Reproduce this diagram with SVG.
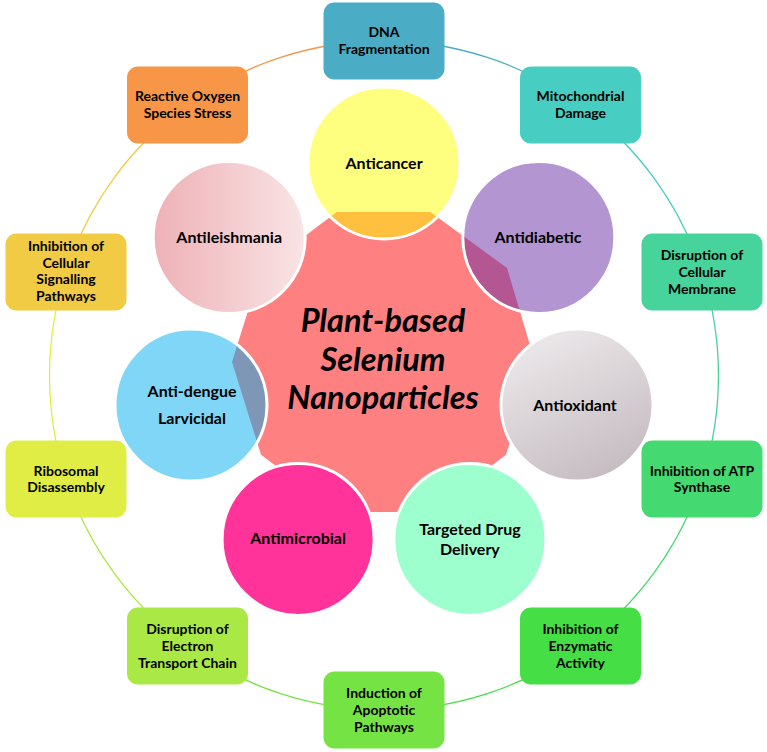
<svg xmlns="http://www.w3.org/2000/svg" width="767" height="752" viewBox="0 0 767 752">
  <defs>
    <linearGradient id="gLeish" x1="0" y1="0" x2="1" y2="0">
      <stop offset="0" stop-color="#EEB1B6"/>
      <stop offset="1" stop-color="#F9E4E5"/>
    </linearGradient>
    <linearGradient id="gOx" x1="0.25" y1="0" x2="0.75" y2="1">
      <stop offset="0" stop-color="#EDE9EB"/>
      <stop offset="1" stop-color="#C4BABF"/>
    </linearGradient>
  </defs>
  <style>
    .box { stroke: none; }
    .bt { font-family: Lato, "Liberation Sans", sans-serif; font-weight: bold; font-size: 14px; fill: #000; text-anchor: middle; }
    .ct { font-family: Lato, "Liberation Sans", sans-serif; font-weight: bold; font-size: 16px; fill: #000; text-anchor: middle; }
    .title { font-family: Lato, "Liberation Sans", sans-serif; font-weight: bold; font-style: italic; font-size: 32.5px; fill: #000; text-anchor: middle; }
    .circ { stroke: #FFFFFF; stroke-width: 3; }
    .ring { fill: none; stroke-width: 1.3; }
  </style>
  <rect width="767" height="752" fill="#FFFFFF"/>

  <!-- ring connectors -->
  <g id="connectors">
    <path class="ring" stroke="#4BACC6" d="M384,41 A334.5,334.5 0 0 1 580.6,104.9"/>
    <path class="ring" stroke="#47CDC1" d="M580.6,104.9 A334.5,334.5 0 0 1 702.1,272.1"/>
    <path class="ring" stroke="#46D39C" d="M702.1,272.1 A334.5,334.5 0 0 1 702.1,478.9"/>
    <path class="ring" stroke="#45D971" d="M702.1,478.9 A334.5,334.5 0 0 1 580.6,646.1"/>
    <path class="ring" stroke="#46DE45" d="M580.6,646.1 A334.5,334.5 0 0 1 384,710"/>
    <path class="ring" stroke="#76E345" d="M384,710 A334.5,334.5 0 0 1 187.4,646.1"/>
    <path class="ring" stroke="#AAE845" d="M187.4,646.1 A334.5,334.5 0 0 1 65.9,478.9"/>
    <path class="ring" stroke="#E0ED45" d="M65.9,478.9 A334.5,334.5 0 0 1 65.9,272.1"/>
    <path class="ring" stroke="#F2CB45" d="M65.9,272.1 A334.5,334.5 0 0 1 187.4,104.9"/>
    <path class="ring" stroke="#F79646" d="M187.4,104.9 A334.5,334.5 0 0 1 384,41"/>
  </g>

  <!-- outer boxes -->
  <g id="box-dna">
    <rect class="box" x="323.5" y="2.5" width="121" height="77" rx="11" fill="#4BACC6"/>
    <text class="bt" x="384" y="37">DNA</text>
    <text class="bt" x="384" y="53.5">Fragmentation</text>
  </g>
  <g id="box-mito">
    <rect class="box" x="520" y="66.5" width="121" height="77" rx="11" fill="#47CDC1"/>
    <text class="bt" x="580.5" y="101">Mitochondrial</text>
    <text class="bt" x="580.5" y="117.5">Damage</text>
  </g>
  <g id="box-membrane">
    <rect class="box" x="641.5" y="233.5" width="121" height="77" rx="11" fill="#46D39C"/>
    <text class="bt" x="702" y="259.5">Disruption of</text>
    <text class="bt" x="702" y="276.5">Cellular</text>
    <text class="bt" x="702" y="293.5">Membrane</text>
  </g>
  <g id="box-atp">
    <rect class="box" x="641.5" y="440.5" width="121" height="77" rx="11" fill="#45D971"/>
    <text class="bt" x="702" y="475.5">Inhibition of ATP</text>
    <text class="bt" x="702" y="492">Synthase</text>
  </g>
  <g id="box-enzymatic">
    <rect class="box" x="520" y="607.5" width="121" height="77" rx="11" fill="#46DE45"/>
    <text class="bt" x="580.5" y="633.5">Inhibition of</text>
    <text class="bt" x="580.5" y="650.5">Enzymatic</text>
    <text class="bt" x="580.5" y="667.5">Activity</text>
  </g>
  <g id="box-apoptotic">
    <rect class="box" x="323.5" y="671.5" width="121" height="77" rx="11" fill="#76E345"/>
    <text class="bt" x="384" y="697.5">Induction of</text>
    <text class="bt" x="384" y="714.5">Apoptotic</text>
    <text class="bt" x="384" y="731.5">Pathways</text>
  </g>
  <g id="box-electron">
    <rect class="box" x="127" y="607.5" width="121" height="77" rx="11" fill="#AAE845"/>
    <text class="bt" x="187.5" y="633.5">Disruption of</text>
    <text class="bt" x="187.5" y="650.5">Electron</text>
    <text class="bt" x="187.5" y="667.5">Transport Chain</text>
  </g>
  <g id="box-ribosomal">
    <rect class="box" x="5.5" y="440.5" width="121" height="77" rx="11" fill="#E0ED45"/>
    <text class="bt" x="66" y="475.5">Ribosomal</text>
    <text class="bt" x="66" y="492">Disassembly</text>
  </g>
  <g id="box-signalling">
    <rect class="box" x="5.5" y="233.5" width="121" height="77" rx="11" fill="#F2CB45"/>
    <text class="bt" x="66" y="251">Inhibition of</text>
    <text class="bt" x="66" y="267.5">Cellular</text>
    <text class="bt" x="66" y="284">Signalling</text>
    <text class="bt" x="66" y="300.5">Pathways</text>
  </g>
  <g id="box-ros">
    <rect class="box" x="127" y="66.5" width="121" height="77" rx="11" fill="#F79646"/>
    <text class="bt" x="187.5" y="101">Reactive Oxygen</text>
    <text class="bt" x="187.5" y="117.5">Species Stress</text>
  </g>

  <!-- central decagon -->
  <g id="center">
    <polygon fill="#FF8080" points="535,362 507,268 430.3,212 336.7,212 261,269.3 232,362 261,454.7 336.7,512 430.3,512 506,454.7"/>
  </g>

  <!-- circles -->
  <g id="c-antileishmania">
    <circle class="circ" cx="229.2" cy="237.5" r="76" fill="url(#gLeish)"/>
    <text class="ct" x="229.2" y="243">Antileishmania</text>
  </g>
  <g id="c-antioxidant">
    <circle class="circ" cx="577" cy="405.1" r="76" fill="url(#gOx)"/>
    <text class="ct" x="575" y="410.5">Antioxidant</text>
  </g>
  <g id="c-targeted">
    <circle class="circ" cx="469.9" cy="539.4" r="76" fill="#9CFFCD"/>
    <text class="ct" x="469.9" y="535">Targeted Drug</text>
    <text class="ct" x="469.9" y="555">Delivery</text>
  </g>
  <g id="c-antimicrobial">
    <circle class="circ" cx="298.1" cy="539.4" r="76" fill="#FF3399"/>
    <text class="ct" x="298.1" y="544">Antimicrobial</text>
  </g>
  <g id="c-anticancer">
    <circle class="circ" cx="384" cy="163" r="76" fill="rgba(255,255,0,0.5)"/>
    <text class="ct" x="384" y="168.5">Anticancer</text>
  </g>
  <g id="c-antidiabetic">
    <circle class="circ" cx="538.8" cy="237.5" r="76" fill="rgba(104,44,164,0.5)"/>
    <text class="ct" x="538" y="243">Antidiabetic</text>
  </g>
  <g id="c-antidengue">
    <circle class="circ" cx="191" cy="405.1" r="76" fill="rgba(0,174,238,0.5)"/>
    <text class="ct" x="192" y="397">Anti-dengue</text>
    <text class="ct" x="192" y="424">Larvicidal</text>
  </g>

  <g id="title">
    <text class="title" x="383" y="332">Plant-based</text>
    <text class="title" x="383" y="370.5">Selenium</text>
    <text class="title" x="383" y="409">Nanoparticles</text>
  </g>
</svg>
